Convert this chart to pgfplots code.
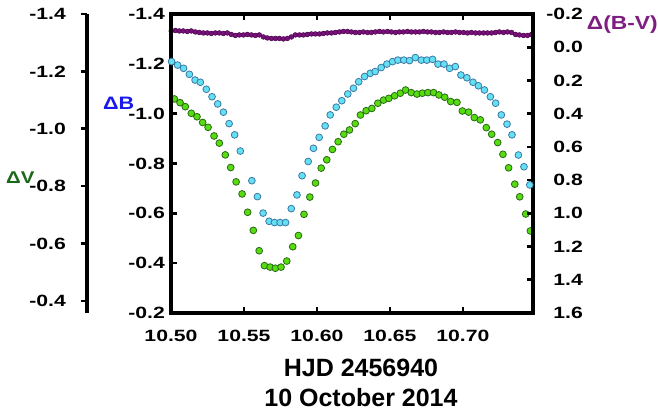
\documentclass[border=0pt]{standalone}
\usepackage{pgfplots}
\pgfplotsset{compat=1.18}
\usepackage{pgfplotstable}
\usepackage{fontspec}
\setmainfont{Liberation Sans}
\newfontfamily\tickfont[FakeStretch=1.3]{Liberation Sans}
\newfontfamily\labfont[FakeStretch=1.2]{Liberation Sans}
\definecolor{cyanfill}{RGB}{100,224,243}
\definecolor{cyanedge}{RGB}{60,120,165}
\definecolor{greenfill}{RGB}{86,220,16}
\definecolor{greenedge}{RGB}{40,105,20}
\definecolor{purpfill}{RGB}{118,18,120}
\definecolor{purpedge}{RGB}{70,0,72}
\definecolor{dBcol}{RGB}{25,25,235}
\definecolor{dVcol}{RGB}{25,105,25}
\definecolor{bvcol}{RGB}{125,30,128}

\pgfplotstableread{
x V
10.5023 -1.104
10.5062 -1.091
10.5098 -1.077
10.5139 -1.054
10.5178 -1.042
10.5217 -1.022
10.5254 -1.005
10.5295 -0.975
10.5331 -0.950
10.5372 -0.909
10.5409 -0.865
10.5446 -0.815
10.5487 -0.773
10.5525 -0.709
10.5564 -0.646
10.5604 -0.575
10.5640 -0.523
10.5679 -0.518
10.5715 -0.514
10.5754 -0.518
10.5793 -0.539
10.5834 -0.589
10.5873 -0.628
10.5911 -0.702
10.5951 -0.762
10.5990 -0.811
10.6029 -0.863
10.6067 -0.892
10.6106 -0.928
10.6145 -0.955
10.6184 -0.981
10.6223 -0.996
10.6262 -1.018
10.6298 -1.048
10.6337 -1.063
10.6376 -1.071
10.6417 -1.089
10.6456 -1.100
10.6492 -1.106
10.6532 -1.115
10.6571 -1.124
10.6607 -1.135
10.6646 -1.126
10.6685 -1.121
10.6722 -1.124
10.6760 -1.126
10.6799 -1.126
10.6835 -1.118
10.6875 -1.110
10.6916 -1.095
10.6959 -1.092
10.6996 -1.062
10.7039 -1.058
10.7078 -1.039
10.7119 -1.031
10.7160 -1.004
10.7197 -0.981
10.7238 -0.952
10.7274 -0.911
10.7313 -0.864
10.7355 -0.807
10.7389 -0.763
10.7430 -0.703
10.7462 -0.644
}\dataV

\pgfplotstableread{
x B
10.5004 -1.209
10.5045 -1.195
10.5086 -1.182
10.5126 -1.158
10.5165 -1.135
10.5201 -1.126
10.5242 -1.098
10.5281 -1.068
10.5320 -1.039
10.5359 -1.006
10.5398 -0.960
10.5436 -0.915
10.5475 -0.850
10.5554 -0.731
10.5592 -0.667
10.5631 -0.601
10.5672 -0.568
10.5709 -0.563
10.5748 -0.563
10.5785 -0.563
10.5824 -0.619
10.5863 -0.674
10.5898 -0.751
10.5940 -0.808
10.5976 -0.861
10.6015 -0.905
10.6056 -0.951
10.6091 -0.995
10.6132 -1.026
10.6170 -1.052
10.6211 -1.079
10.6250 -1.102
10.6286 -1.128
10.6326 -1.149
10.6365 -1.162
10.6399 -1.169
10.6440 -1.185
10.6479 -1.199
10.6518 -1.209
10.6554 -1.215
10.6595 -1.215
10.6634 -1.213
10.6674 -1.225
10.6715 -1.215
10.6753 -1.215
10.6792 -1.218
10.6829 -1.199
10.6870 -1.199
10.6909 -1.182
10.6948 -1.189
10.6986 -1.155
10.7027 -1.144
10.7069 -1.126
10.7106 -1.112
10.7147 -1.095
10.7188 -1.068
10.7224 -1.042
10.7263 -0.995
10.7302 -0.958
10.7336 -0.915
10.7380 -0.834
10.7418 -0.787
10.7458 -0.714
}\dataB

\pgfplotstableread{
x BV
10.5002 -0.098
10.5030 -0.101
10.5057 -0.098
10.5084 -0.098
10.5112 -0.095
10.5139 -0.098
10.5167 -0.092
10.5194 -0.089
10.5222 -0.086
10.5249 -0.086
10.5276 -0.083
10.5304 -0.086
10.5331 -0.086
10.5359 -0.083
10.5386 -0.086
10.5413 -0.077
10.5441 -0.071
10.5468 -0.074
10.5496 -0.074
10.5523 -0.077
10.5551 -0.074
10.5578 -0.071
10.5605 -0.074
10.5633 -0.062
10.5660 -0.056
10.5688 -0.053
10.5715 -0.053
10.5742 -0.053
10.5770 -0.050
10.5797 -0.053
10.5825 -0.062
10.5852 -0.074
10.5880 -0.074
10.5907 -0.074
10.5934 -0.077
10.5962 -0.080
10.5989 -0.080
10.6017 -0.080
10.6044 -0.083
10.6071 -0.086
10.6099 -0.086
10.6126 -0.089
10.6154 -0.092
10.6181 -0.095
10.6209 -0.095
10.6236 -0.092
10.6263 -0.089
10.6291 -0.089
10.6318 -0.092
10.6346 -0.089
10.6373 -0.089
10.6400 -0.092
10.6428 -0.095
10.6455 -0.092
10.6483 -0.095
10.6510 -0.092
10.6538 -0.089
10.6565 -0.092
10.6592 -0.092
10.6620 -0.095
10.6647 -0.092
10.6675 -0.092
10.6702 -0.092
10.6729 -0.095
10.6757 -0.092
10.6784 -0.092
10.6812 -0.089
10.6839 -0.089
10.6867 -0.092
10.6894 -0.089
10.6921 -0.089
10.6949 -0.092
10.6976 -0.089
10.7004 -0.089
10.7031 -0.086
10.7058 -0.089
10.7086 -0.086
10.7113 -0.086
10.7141 -0.086
10.7168 -0.086
10.7196 -0.086
10.7223 -0.089
10.7250 -0.092
10.7278 -0.089
10.7305 -0.092
10.7333 -0.089
10.7360 -0.077
10.7387 -0.074
10.7415 -0.071
10.7442 -0.071
10.7470 -0.077
}\dataBV

\pgfplotsset{
  thickaxis/.style={
    axis line style={line width=3.2pt, black},
    major tick length=6pt,
    major tick style={line width=2.6pt, black},
  },
  common/.style={
    at={(0pt,0pt)}, anchor=south west, scale only axis,
    width=362pt, height=299pt,
    xmin=10.5, xmax=10.748, y dir=reverse, clip=false,
    scaled x ticks=false, scaled y ticks=false,
    /pgf/number format/assume math mode=true,
    tick label style={font=\tickfont\bfseries\fontsize{16.3}{18}\selectfont, inner sep=0pt},
    yticklabel style={/pgf/number format/fixed, /pgf/number format/fixed zerofill, /pgf/number format/precision=1},
    xticklabel style={/pgf/number format/fixed, /pgf/number format/fixed zerofill, /pgf/number format/precision=2},
  },
}

\begin{document}
\begin{tikzpicture}
\path[use as bounding box] (-171pt,-99pt) rectangle (487pt,313pt);

% Delta V data
\begin{axis}[common, ymin=-1.4, ymax=-0.358, hide axis]
\addplot[only marks, mark=*, mark size=3.4pt, mark options={fill=greenfill, draw=greenedge, line width=0.8pt}] table[x=x, y=V] {\dataV};
\end{axis}

% Delta (B-V) data and right axis
\begin{axis}[common, ymin=-0.2, ymax=1.6, hide x axis, axis y line*=right,
  thickaxis, tick align=inside,
  ytick={-0.2,0,0.2,0.4,0.6,0.8,1.0,1.2,1.4,1.6},
  yticklabel style={anchor=east, xshift=50pt}]
\addplot[only marks, mark=*, mark size=2.4pt, mark options={fill=purpfill, draw=purpedge, line width=0.5pt}] table[x=x, y=BV] {\dataBV};
\end{axis}

% Delta V scale (separate left axis)
\begin{axis}[at={(-84pt,0pt)}, anchor=south west, scale only axis,
  width=20pt, height=299pt, xmin=0, xmax=1,
  ymin=-1.4, ymax=-0.358, y dir=reverse,
  hide x axis, axis y line*=left, thickaxis, tick align=outside,
  /pgf/number format/assume math mode=true,
  ytick={-1.4,-1.2,-1.0,-0.8,-0.6,-0.4},
  tick label style={font=\tickfont\bfseries\fontsize{16.3}{18}\selectfont, inner sep=0pt},
  yticklabel style={/pgf/number format/fixed, /pgf/number format/fixed zerofill, /pgf/number format/precision=1, anchor=east, xshift=-15pt}]
\end{axis}

% Delta B data and main frame
\begin{axis}[common, ymin=-1.4, ymax=-0.2, axis on top, thickaxis,
  xtick={10.5,10.55,10.6,10.65,10.7}, xtick pos=both, ytick pos=left,
  tick align=inside,
  ytick={-1.4,-1.2,-1.0,-0.8,-0.6,-0.4,-0.2},
  xticklabel style={anchor=north, yshift=-17pt},
  yticklabel style={anchor=east, xshift=-6pt}]
\addplot[only marks, mark=*, mark size=3.4pt, mark options={fill=cyanfill, draw=cyanedge, line width=0.8pt}] table[x=x, y=B] {\dataB};
\end{axis}

\node[anchor=base west, inner sep=0pt, text=dBcol, font=\labfont\bfseries\fontsize{18}{20}\selectfont] at (-68pt,203pt) {ΔB};
\node[anchor=base west, inner sep=0pt, text=dVcol, font=\labfont\bfseries\fontsize{17}{20}\selectfont] at (-165pt,129pt) {ΔV};
\node[anchor=base west, inner sep=0pt, text=bvcol, font=\labfont\bfseries\fontsize{19}{21}\selectfont] at (415.7pt,283pt) {Δ(B-V)};

\node[anchor=base, inner sep=0pt, font=\bfseries\fontsize{25}{30}\selectfont] at (190pt,-63.5pt) {HJD 2456940};
\node[anchor=base, inner sep=0pt, font=\bfseries\fontsize{25}{30}\selectfont] at (190pt,-93.5pt) {10 October 2014};
\end{tikzpicture}
\end{document}
